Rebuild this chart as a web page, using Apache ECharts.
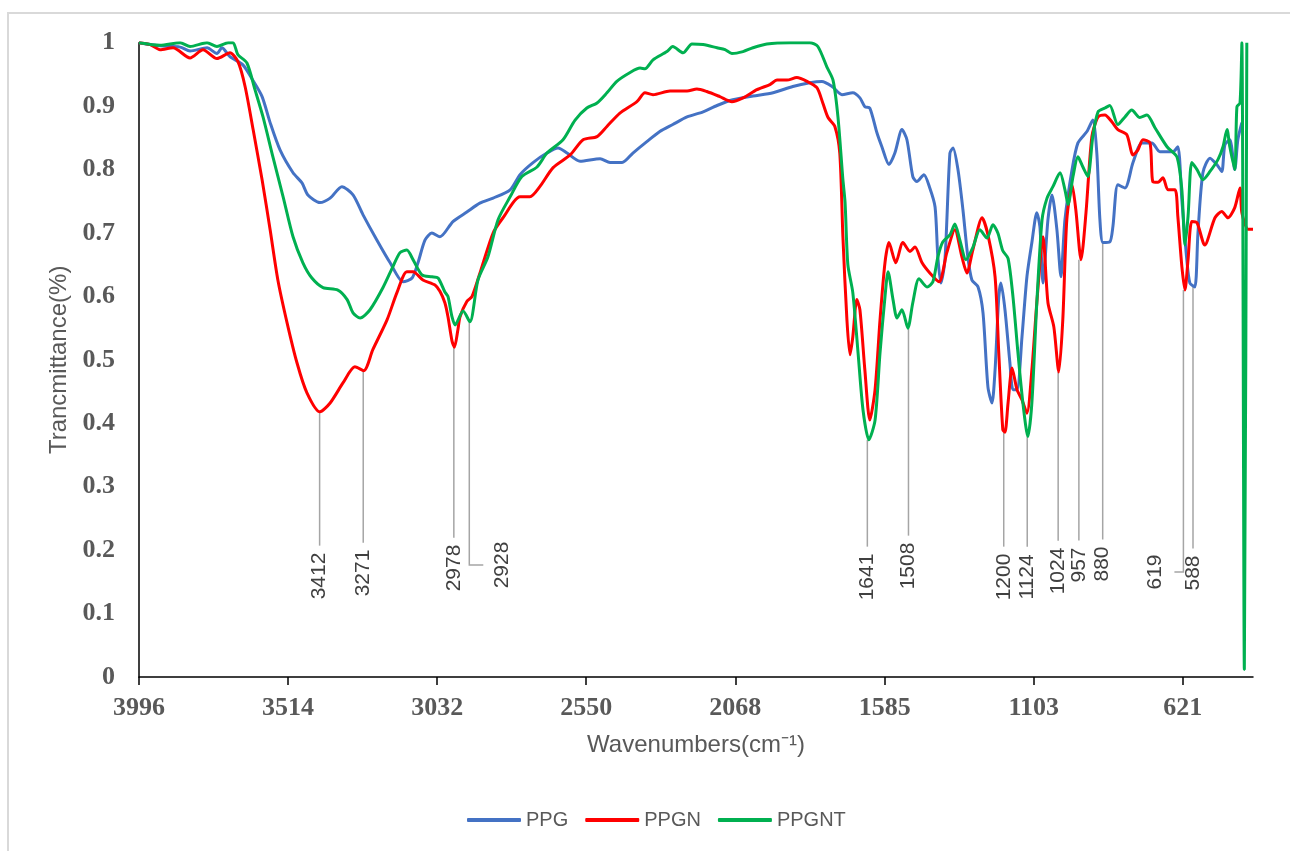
<!DOCTYPE html>
<html>
<head>
<meta charset="utf-8">
<script src="https://cdn.jsdelivr.net/npm/echarts@6/dist/echarts.min.js"></script>
<style>
  html, body { margin: 0; padding: 0; background: #ffffff; }
  #chart { width: 1290px; height: 851px; }
</style>
</head>
<body>
<div id="chart"></div>
<script>
// ---------- DATA (wavenumber cm-1, transmittance) ----------
const seriesNames = ['PPG', 'PPGN', 'PPGNT'];

const ppg = [[3996,1.0],[3928,0.995],[3863,0.993],[3831,0.987],[3776,0.992],[3744,0.983],[3728,0.992],[3702,0.978],[3660,0.965],[3627,0.94],[3598,0.915],[3572,0.874],[3540,0.831],[3498,0.795],[3469,0.779],[3450,0.760],[3411,0.748],[3378,0.755],[3340,0.773],[3304,0.760],[3272,0.729],[3227,0.689],[3184,0.653],[3142,0.623],[3113,0.629],[3094,0.653],[3071,0.689],[3049,0.700],[3023,0.694],[2981,0.718],[2936,0.733],[2894,0.747],[2851,0.755],[2796,0.768],[2764,0.792],[2722,0.811],[2677,0.826],[2641,0.834],[2612,0.826],[2570,0.813],[2505,0.817],[2473,0.811],[2434,0.811],[2399,0.826],[2354,0.844],[2312,0.860],[2270,0.871],[2224,0.883],[2172,0.891],[2127,0.901],[2076,0.910],[2011,0.916],[1946,0.921],[1882,0.931],[1827,0.937],[1788,0.939],[1755,0.931],[1723,0.918],[1688,0.921],[1665,0.913],[1649,0.899],[1633,0.897],[1610,0.858],[1594,0.836],[1571,0.808],[1552,0.826],[1529,0.863],[1513,0.847],[1494,0.789],[1481,0.781],[1458,0.792],[1439,0.771],[1422,0.741],[1413,0.662],[1403,0.621],[1390,0.658],[1374,0.826],[1364,0.834],[1348,0.800],[1332,0.737],[1316,0.662],[1303,0.626],[1283,0.615],[1267,0.574],[1251,0.457],[1238,0.432],[1228,0.484],[1216,0.599],[1209,0.621],[1196,0.579],[1180,0.495],[1170,0.453],[1157,0.453],[1141,0.536],[1125,0.631],[1109,0.685],[1093,0.732],[1083,0.710],[1073,0.621],[1057,0.721],[1044,0.760],[1028,0.705],[1015,0.631],[1002,0.721],[979,0.800],[960,0.842],[931,0.860],[912,0.878],[899,0.826],[889,0.721],[879,0.685],[857,0.686],[847,0.710],[831,0.776],[808,0.771],[782,0.811],[753,0.842],[721,0.842],[695,0.828],[653,0.828],[637,0.836],[624,0.752],[608,0.658],[598,0.621],[582,0.615],[572,0.700],[556,0.795],[533,0.818],[511,0.808],[495,0.797],[485,0.839],[469,0.847],[453,0.800],[443,0.847],[430,0.874]];

const ppgn = [[3996,1.0],[3960,0.997],[3928,0.989],[3886,0.992],[3831,0.976],[3789,0.989],[3744,0.975],[3702,0.984],[3676,0.970],[3653,0.931],[3627,0.863],[3598,0.784],[3572,0.705],[3547,0.626],[3517,0.558],[3485,0.495],[3453,0.448],[3411,0.418],[3378,0.432],[3336,0.464],[3298,0.489],[3269,0.483],[3240,0.516],[3194,0.563],[3162,0.606],[3130,0.639],[3110,0.639],[3078,0.626],[3039,0.618],[3023,0.608],[3007,0.590],[2997,0.568],[2984,0.530],[2976,0.520],[2965,0.547],[2958,0.568],[2936,0.592],[2919,0.600],[2887,0.647],[2851,0.700],[2819,0.724],[2764,0.757],[2732,0.757],[2700,0.773],[2657,0.803],[2602,0.823],[2560,0.847],[2515,0.852],[2483,0.868],[2441,0.889],[2386,0.907],[2360,0.921],[2334,0.918],[2279,0.924],[2224,0.924],[2192,0.927],[2160,0.923],[2118,0.915],[2079,0.907],[2043,0.913],[1998,0.926],[1956,0.934],[1933,0.941],[1901,0.941],[1869,0.945],[1836,0.939],[1804,0.929],[1785,0.905],[1768,0.882],[1746,0.868],[1730,0.825],[1720,0.694],[1707,0.563],[1697,0.508],[1688,0.536],[1675,0.595],[1665,0.579],[1649,0.484],[1633,0.405],[1616,0.453],[1600,0.563],[1584,0.653],[1571,0.685],[1549,0.653],[1526,0.685],[1503,0.671],[1487,0.678],[1464,0.653],[1439,0.637],[1409,0.623],[1384,0.669],[1358,0.705],[1335,0.662],[1319,0.637],[1300,0.673],[1270,0.724],[1251,0.697],[1228,0.631],[1216,0.511],[1203,0.390],[1196,0.386],[1186,0.432],[1173,0.487],[1157,0.453],[1141,0.437],[1125,0.416],[1109,0.484],[1093,0.590],[1073,0.694],[1057,0.590],[1038,0.552],[1022,0.481],[1009,0.563],[996,0.721],[979,0.776],[967,0.737],[950,0.658],[934,0.732],[915,0.852],[895,0.883],[873,0.886],[850,0.875],[831,0.863],[802,0.855],[782,0.823],[766,0.831],[750,0.847],[727,0.842],[718,0.781],[701,0.780],[685,0.787],[669,0.768],[646,0.768],[637,0.726],[624,0.647],[614,0.610],[604,0.658],[592,0.718],[575,0.716],[550,0.681],[517,0.724],[495,0.734],[475,0.724],[453,0.740],[436,0.771],[430,0.732],[410,0.706],[394,0.706]];

const ppgnt = [[3996,1.0],[3928,0.996],[3863,1.0],[3831,0.994],[3776,1.0],[3744,0.994],[3708,1.0],[3692,1.0],[3676,0.981],[3647,0.968],[3621,0.926],[3595,0.883],[3563,0.820],[3530,0.757],[3498,0.694],[3466,0.653],[3437,0.629],[3401,0.614],[3353,0.610],[3323,0.595],[3304,0.574],[3281,0.566],[3249,0.579],[3207,0.614],[3175,0.647],[3152,0.669],[3130,0.673],[3110,0.658],[3081,0.634],[3049,0.631],[3029,0.629],[3007,0.607],[2997,0.600],[2984,0.568],[2974,0.555],[2948,0.577],[2926,0.560],[2900,0.626],[2868,0.662],[2835,0.721],[2796,0.757],[2758,0.789],[2709,0.804],[2677,0.826],[2625,0.847],[2586,0.878],[2548,0.897],[2515,0.905],[2483,0.921],[2451,0.939],[2408,0.953],[2376,0.960],[2360,0.959],[2334,0.973],[2289,0.986],[2270,0.994],[2237,0.984],[2208,0.998],[2172,0.997],[2127,0.992],[2101,0.989],[2079,0.983],[2043,0.986],[2011,0.992],[1966,0.998],[1891,1.0],[1827,1.0],[1801,0.994],[1772,0.962],[1752,0.941],[1736,0.883],[1720,0.784],[1713,0.748],[1704,0.650],[1688,0.606],[1671,0.511],[1655,0.421],[1636,0.374],[1616,0.405],[1600,0.511],[1584,0.599],[1574,0.639],[1558,0.595],[1545,0.566],[1529,0.579],[1510,0.550],[1494,0.590],[1474,0.628],[1448,0.615],[1429,0.623],[1413,0.662],[1397,0.686],[1374,0.697],[1358,0.714],[1342,0.689],[1322,0.658],[1300,0.677],[1277,0.705],[1254,0.692],[1235,0.713],[1219,0.700],[1203,0.672],[1186,0.660],[1170,0.599],[1154,0.511],[1138,0.432],[1122,0.379],[1109,0.432],[1093,0.590],[1076,0.721],[1060,0.755],[1041,0.773],[1018,0.795],[1002,0.768],[992,0.745],[976,0.789],[960,0.820],[944,0.804],[928,0.789],[912,0.852],[895,0.891],[873,0.897],[857,0.901],[831,0.871],[808,0.883],[786,0.894],[760,0.882],[737,0.886],[711,0.866],[672,0.836],[640,0.820],[624,0.768],[614,0.681],[604,0.726],[592,0.811],[575,0.800],[556,0.784],[533,0.797],[507,0.816],[491,0.836],[478,0.863],[469,0.836],[453,0.800],[446,0.899],[436,0.905],[430,1.0],[422,0.012],[414,1.0]];

// x-axis tick labels (cm-1)
const xTickLabels = [3996, 3514, 3032, 2550, 2068, 1585, 1103, 621];

// peak annotations: wavenumber and transmittance at the marked point
const peakWn = [3412, 3271, 2978, 2928, 1641, 1508, 1200, 1124, 1024, 957, 880, 619, 588];
const peakT  = [0.418, 0.483, 0.521, 0.560, 0.374, 0.550, 0.386, 0.379, 0.481, 0.658, 0.685, 0.610, 0.615];

// ---------- LAYOUT (label placement, px) ----------
const labelCenterY = [576, 573, 568, 565, 577, 566, 577, 577, 571, 565, 564, 572, 573];
const labelDx      = [0, 0, 0, 33, 0, 0, 0, 0, 0, 0, 0, -28, 0];

const colors = ['#4472C4', '#FF0000', '#00B050'];
const SANS = '"Liberation Sans", Arial, sans-serif';
const SERIF = '"Liberation Serif", "Times New Roman", serif';
const LABEL_FS = 21;

const chart = echarts.init(document.getElementById('chart'), null, { renderer: 'canvas' });

const lineSeries = [ppg, ppgn, ppgnt].map((d, i) => ({
  name: seriesNames[i],
  type: 'line',
  data: d,
  showSymbol: false,
  symbol: 'none',
  smooth: 0.25,
  lineStyle: { color: colors[i], width: 3 },
  itemStyle: { color: colors[i] },
  z: 3 + i,
  animation: false
}));

const annotationSeries = {
  name: 'peaks',
  type: 'custom',
  coordinateSystem: 'cartesian2d',
  data: peakWn.map((w, i) => [w, peakT[i]]),
  encode: { x: 0, y: 1 },
  clip: false,
  z: 2,
  silent: true,
  animation: false,
  renderItem: function (params, api) {
    const i = params.dataIndex;
    const p = api.coord([api.value(0), api.value(1)]);
    const txt = String(peakWn[i]);
    const len = txt.length * LABEL_FS * 0.556;
    const cy = labelCenterY[i];
    const dx = labelDx[i];
    const cx = p[0] + dx;
    const stroke = { stroke: '#A5A5A5', lineWidth: 1.5, fill: null };
    const children = [];
    if (dx === 0) {
      children.push({ type: 'line', shape: { x1: p[0], y1: p[1], x2: p[0], y2: cy - len / 2 - 7 }, style: stroke });
    } else {
      const endX = cx - Math.sign(dx) * 19;
      children.push({ type: 'polyline', shape: { points: [[p[0], p[1]], [p[0], cy], [endX, cy]] }, style: stroke });
    }
    children.push({
      type: 'text', x: cx, y: cy, rotation: Math.PI / 2,
      style: { text: txt, fill: '#404040', font: LABEL_FS + 'px ' + SANS, align: 'center', verticalAlign: 'middle' }
    });
    return { type: 'group', children: children };
  }
};

chart.setOption({
  animation: false,
  backgroundColor: '#ffffff',
  graphic: [{
    type: 'rect', silent: true, z: -10,
    shape: { x: 8, y: 13, width: 1300, height: 900 },
    style: { fill: 'none', stroke: '#D9D9D9', lineWidth: 2 }
  }],
  grid: { left: 139, right: 37, top: 42.7, bottom: 174, outerBoundsMode: 'none', containLabel: false },
  legend: {
    data: seriesNames,
    left: 462, top: 805,
    icon: 'roundRect', itemWidth: 54, itemHeight: 4, itemGap: 17,
    textStyle: { fontFamily: SANS, fontSize: 20, color: '#595959' }
  },
  xAxis: {
    type: 'value',
    inverse: true,
    min: 394, max: 3996,
    name: 'Wavenumbers(cm\u207B\u00B9)',
    nameLocation: 'middle',
    nameGap: 56,
    nameTextStyle: { fontFamily: SANS, fontSize: 24, color: '#595959' },
    axisLine: { show: true, onZero: false, lineStyle: { color: '#000000', width: 1.5 } },
    axisTick: { show: true, inside: false, length: 8, customValues: xTickLabels, lineStyle: { color: '#000000', width: 1.5 } },
    axisLabel: {
      customValues: xTickLabels,
      margin: 18,
      fontFamily: SERIF, fontWeight: 'bold', fontSize: 26, color: '#595959',
      formatter: v => String(Math.round(v))
    },
    splitLine: { show: false }
  },
  yAxis: {
    type: 'value',
    min: 0, max: 1, interval: 0.1,
    name: 'Trancmittance(%)',
    nameLocation: 'middle',
    nameGap: 64,
    nameTextStyle: { fontFamily: SANS, fontSize: 24, color: '#595959' },
    axisLine: { show: true, lineStyle: { color: '#000000', width: 1.5 } },
    axisTick: { show: false },
    axisLabel: { margin: 24, fontFamily: SERIF, fontWeight: 'bold', fontSize: 26, color: '#595959' },
    splitLine: { show: false }
  },
  series: lineSeries.concat([annotationSeries])
});
</script>
</body>
</html>
